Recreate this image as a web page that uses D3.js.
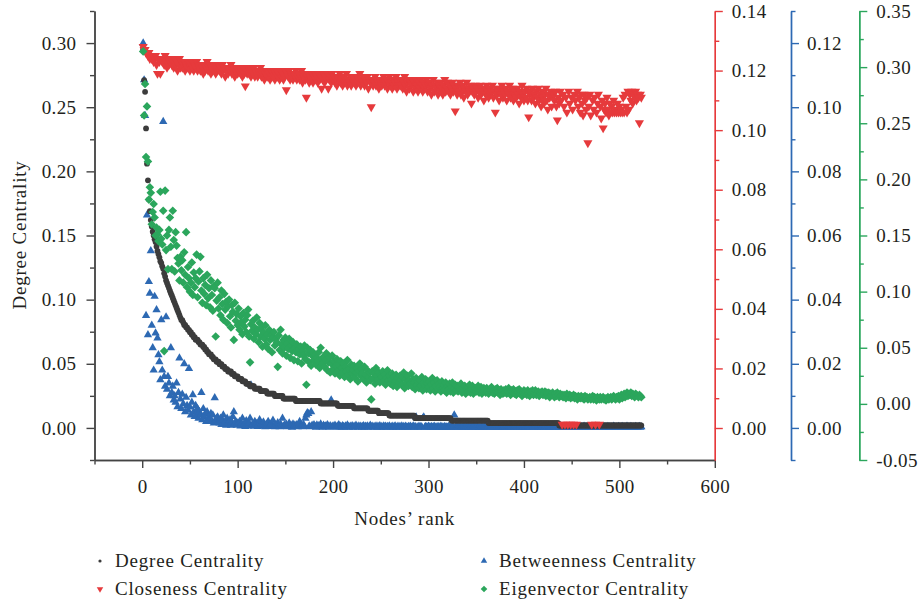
<!DOCTYPE html>
<html><head><meta charset="utf-8">
<script src="https://cdn.jsdelivr.net/npm/d3@7"></script>
<style>
body{margin:0;background:#fff;}
text{font-family:"Liberation Serif","Times New Roman",serif;}
</style></head><body><svg id="c" width="922" height="606"></svg>
<script>
// ---- data (value per node rank, rank = index + 1) ----
const degree = [
0.2950,0.2710,0.2620,0.2335,0.2060,0.1930,0.1780,0.1690,0.1620,0.1570,
0.1530,0.1500,0.1470,0.1450,0.1415,0.1380,0.1355,0.1330,0.1300,0.1285,
0.1260,0.1240,0.1205,0.1180,0.1150,0.1130,0.1110,0.1090,0.1070,0.1050,
0.1033,0.1013,0.0994,0.0975,0.0956,0.0937,0.0918,0.0899,0.0880,0.0860,
0.0841,0.0841,0.0822,0.0803,0.0803,0.0784,0.0784,0.0765,0.0765,0.0746,
0.0746,0.0727,0.0727,0.0707,0.0707,0.0688,0.0688,0.0688,0.0669,0.0669,
0.0650,0.0650,0.0650,0.0631,0.0631,0.0612,0.0612,0.0593,0.0593,0.0574,
0.0574,0.0574,0.0554,0.0554,0.0535,0.0535,0.0535,0.0516,0.0516,0.0516,
0.0497,0.0497,0.0497,0.0478,0.0478,0.0478,0.0459,0.0459,0.0459,0.0440,
0.0440,0.0440,0.0440,0.0421,0.0421,0.0421,0.0402,0.0402,0.0402,0.0402,
0.0382,0.0382,0.0382,0.0382,0.0363,0.0363,0.0363,0.0363,0.0344,0.0344,
0.0344,0.0344,0.0325,0.0325,0.0325,0.0325,0.0325,0.0306,0.0306,0.0306,
0.0306,0.0306,0.0306,0.0287,0.0287,0.0287,0.0287,0.0287,0.0287,0.0287,
0.0268,0.0268,0.0268,0.0268,0.0268,0.0268,0.0268,0.0268,0.0249,0.0249,
0.0249,0.0249,0.0249,0.0249,0.0249,0.0249,0.0249,0.0229,0.0229,0.0229,
0.0229,0.0229,0.0229,0.0229,0.0229,0.0229,0.0229,0.0229,0.0229,0.0229,
0.0210,0.0210,0.0210,0.0210,0.0210,0.0210,0.0210,0.0210,0.0210,0.0210,
0.0210,0.0210,0.0210,0.0210,0.0210,0.0210,0.0210,0.0210,0.0210,0.0210,
0.0210,0.0210,0.0210,0.0210,0.0210,0.0210,0.0191,0.0191,0.0191,0.0191,
0.0191,0.0191,0.0191,0.0191,0.0191,0.0191,0.0191,0.0191,0.0191,0.0191,
0.0191,0.0191,0.0191,0.0191,0.0172,0.0172,0.0172,0.0172,0.0172,0.0172,
0.0172,0.0172,0.0172,0.0172,0.0172,0.0172,0.0172,0.0172,0.0172,0.0172,
0.0172,0.0153,0.0153,0.0153,0.0153,0.0153,0.0153,0.0153,0.0153,0.0153,
0.0153,0.0153,0.0153,0.0153,0.0153,0.0153,0.0134,0.0134,0.0134,0.0134,
0.0134,0.0134,0.0134,0.0134,0.0134,0.0134,0.0134,0.0115,0.0115,0.0115,
0.0115,0.0115,0.0115,0.0115,0.0115,0.0115,0.0115,0.0115,0.0096,0.0096,
0.0096,0.0096,0.0096,0.0096,0.0096,0.0096,0.0096,0.0096,0.0096,0.0096,
0.0096,0.0096,0.0096,0.0096,0.0096,0.0096,0.0096,0.0096,0.0096,0.0096,
0.0096,0.0096,0.0096,0.0096,0.0096,0.0076,0.0076,0.0076,0.0076,0.0076,
0.0076,0.0076,0.0076,0.0076,0.0076,0.0076,0.0076,0.0076,0.0076,0.0076,
0.0076,0.0076,0.0076,0.0076,0.0076,0.0076,0.0076,0.0076,0.0076,0.0076,
0.0076,0.0076,0.0076,0.0076,0.0076,0.0076,0.0076,0.0076,0.0076,0.0076,
0.0076,0.0076,0.0076,0.0057,0.0057,0.0057,0.0057,0.0057,0.0057,0.0057,
0.0057,0.0057,0.0057,0.0057,0.0057,0.0057,0.0057,0.0057,0.0057,0.0057,
0.0057,0.0057,0.0057,0.0057,0.0057,0.0057,0.0057,0.0057,0.0057,0.0057,
0.0057,0.0057,0.0057,0.0057,0.0057,0.0057,0.0057,0.0057,0.0057,0.0057,
0.0057,0.0057,0.0038,0.0038,0.0038,0.0038,0.0038,0.0038,0.0038,0.0038,
0.0038,0.0038,0.0038,0.0038,0.0038,0.0038,0.0038,0.0038,0.0038,0.0038,
0.0038,0.0038,0.0038,0.0038,0.0038,0.0038,0.0038,0.0038,0.0038,0.0038,
0.0038,0.0038,0.0038,0.0038,0.0038,0.0038,0.0038,0.0038,0.0038,0.0038,
0.0038,0.0038,0.0038,0.0038,0.0038,0.0038,0.0038,0.0038,0.0038,0.0038,
0.0038,0.0038,0.0038,0.0038,0.0038,0.0038,0.0038,0.0038,0.0038,0.0038,
0.0038,0.0038,0.0038,0.0038,0.0038,0.0038,0.0038,0.0038,0.0038,0.0038,
0.0038,0.0038,0.0038,0.0038,0.0038,0.0038,0.0019,0.0019,0.0019,0.0019,
0.0019,0.0019,0.0019,0.0019,0.0019,0.0019,0.0019,0.0019,0.0019,0.0019,
0.0019,0.0019,0.0019,0.0019,0.0019,0.0019,0.0019,0.0019,0.0019,0.0019,
0.0019,0.0019,0.0019,0.0019,0.0019,0.0019,0.0019,0.0019,0.0019,0.0019,
0.0019,0.0019,0.0019,0.0019,0.0019,0.0019,0.0019,0.0019,0.0019,0.0019,
0.0019,0.0019,0.0019,0.0019,0.0019,0.0019,0.0019,0.0019,0.0019,0.0019,
0.0019,0.0019,0.0019,0.0019,0.0019,0.0019,0.0019,0.0019,0.0019,0.0019,
0.0019,0.0019,0.0019,0.0019,0.0019,0.0019,0.0019,0.0019,0.0019,0.0019,
0.0019,0.0019,0.0019,0.0019,0.0019,0.0019,0.0019,0.0019,0.0019,0.0019,
0.0019,0.0019,0.0019];

const closeness = [
0.128,0.127,0.127,0.126,0.126,0.125,0.126,0.124,0.125,0.124,
0.125,0.123,0.124,0.125,0.122,0.119,0.124,0.123,0.119,0.124,
0.123,0.124,0.122,0.125,0.123,0.121,0.124,0.122,0.123,0.124,
0.122,0.123,0.121,0.124,0.122,0.123,0.120,0.122,0.124,0.121,
0.123,0.121,0.122,0.123,0.120,0.122,0.121,0.123,0.122,0.120,
0.122,0.123,0.121,0.120,0.122,0.121,0.123,0.120,0.122,0.121,
0.120,0.122,0.121,0.119,0.122,0.120,0.121,0.123,0.120,0.121,
0.122,0.119,0.121,0.120,0.122,0.121,0.119,0.121,0.120,0.122,
0.120,0.121,0.119,0.122,0.120,0.121,0.118,0.120,0.121,0.119,
0.121,0.120,0.122,0.119,0.120,0.121,0.118,0.120,0.121,0.119,
0.120,0.121,0.119,0.120,0.118,0.121,0.119,0.1148,0.120,0.119,
0.121,0.119,0.120,0.118,0.120,0.119,0.121,0.118,0.120,0.119,
0.118,0.120,0.119,0.121,0.118,0.119,0.120,0.117,0.119,0.120,
0.118,0.120,0.119,0.117,0.120,0.118,0.119,0.120,0.117,0.119,
0.120,0.118,0.119,0.117,0.120,0.118,0.119,0.117,0.118,0.120,
0.1135,0.119,0.118,0.120,0.117,0.119,0.118,0.117,0.119,0.118,
0.120,0.117,0.118,0.119,0.117,0.118,0.120,0.116,0.118,0.119,
0.117,0.111,0.118,0.119,0.116,0.118,0.117,0.119,0.116,0.118,
0.119,0.117,0.118,0.116,0.119,0.117,0.118,0.114,0.117,0.119,
0.116,0.118,0.117,0.119,0.114,0.117,0.118,0.116,0.119,0.117,
0.118,0.116,0.117,0.115,0.118,0.117,0.119,0.116,0.117,0.115,
0.118,0.116,0.117,0.119,0.115,0.117,0.116,0.118,0.115,0.117,
0.118,0.116,0.117,0.115,0.118,0.116,0.117,0.119,0.115,0.117,
0.116,0.118,0.115,0.117,0.116,0.118,0.114,0.117,0.116,0.1078,
0.117,0.115,0.116,0.118,0.115,0.117,0.116,0.114,0.117,0.116,
0.115,0.117,0.118,0.115,0.116,0.117,0.114,0.116,0.118,0.115,
0.116,0.114,0.117,0.115,0.116,0.118,0.114,0.116,0.115,0.117,
0.115,0.117,0.114,0.116,0.118,0.115,0.113,0.116,0.117,0.114,
0.116,0.115,0.117,0.113,0.116,0.114,0.117,0.115,0.113,0.116,
0.114,0.117,0.115,0.113,0.116,0.114,0.115,0.117,0.113,0.115,
0.116,0.114,0.112,0.115,0.117,0.113,0.115,0.114,0.116,0.112,
0.115,0.113,0.116,0.114,0.112,0.115,0.117,0.113,0.114,0.116,
0.113,0.115,0.112,0.114,0.116,0.113,0.115,0.1064,0.114,0.112,
0.115,0.113,0.116,0.112,0.114,0.115,0.111,0.114,0.113,0.116,
0.112,0.114,0.113,0.115,0.109,0.113,0.114,0.112,0.115,0.113,
0.114,0.111,0.113,0.115,0.112,0.114,0.113,0.110,0.114,0.112,
0.115,0.113,0.111,0.114,0.112,0.113,0.115,0.111,0.113,0.106,
0.114,0.112,0.113,0.110,0.114,0.112,0.115,0.111,0.113,0.112,
0.114,0.110,0.113,0.112,0.115,0.111,0.113,0.114,0.110,0.112,
0.113,0.111,0.114,0.112,0.109,0.113,0.111,0.115,0.112,0.110,
0.113,0.111,0.114,0.110,0.1044,0.112,0.113,0.110,0.114,0.111,
0.112,0.109,0.113,0.111,0.114,0.110,0.112,0.108,0.113,0.111,
0.109,0.112,0.114,0.110,0.107,0.112,0.111,0.113,0.108,0.111,
0.112,0.110,0.113,0.108,0.1034,0.111,0.109,0.113,0.110,0.0012,
0.112,0.108,0.0012,0.111,0.106,0.0012,0.113,0.109,0.0012,0.111,
0.107,0.0012,0.112,0.110,0.0012,0.113,0.108,0.111,0.106,0.112,
0.109,0.105,0.112,0.110,0.107,0.111,0.0957,0.108,0.112,0.105,
0.0012,0.110,0.107,0.111,0.0012,0.106,0.109,0.112,0.0012,0.108,
0.104,0.110,0.1007,0.107,0.109,0.106,0.111,0.107,0.105,0.109,
0.106,0.108,0.106,0.110,0.106,0.107,0.106,0.109,0.106,0.108,
0.106,0.107,0.106,0.111,0.106,0.112,0.108,0.106,0.113,0.107,
0.112,0.110,0.113,0.109,0.112,0.111,0.113,0.110,0.112,0.111,
0.1024,0.112,0.111];

const betweenness = [
0.1200,0.1085,0.0974,0.0350,0.0664,0.0290,0.0456,0.0420,0.0552,0.0320,
0.0250,0.0180,0.0410,0.0296,0.0368,0.0280,0.0228,0.0206,0.0150,0.0337,
0.0180,0.0955,0.0160,0.0130,0.0346,0.0120,0.0160,0.0140,0.0100,0.0250,
0.0110,0.0130,0.0087,0.0100,0.0080,0.0140,0.0066,0.0110,0.0218,0.0090,
0.0060,0.0105,0.0075,0.0200,0.0050,0.0095,0.0070,0.0055,0.0185,0.0065,
0.0040,0.0080,0.0103,0.0050,0.0035,0.0070,0.0045,0.0060,0.0030,0.0050,
0.0040,0.0110,0.0025,0.0060,0.0035,0.0045,0.0020,0.0050,0.0025,0.0035,
0.0030,0.0045,0.0020,0.0040,0.0015,0.0094,0.0025,0.0030,0.0034,0.0020,
0.0015,0.0030,0.0010,0.0025,0.0040,0.0012,0.0020,0.0008,0.0030,0.0015,
0.0010,0.0025,0.0008,0.0018,0.0035,0.0050,0.0012,0.0020,0.0008,0.0015,
0.0010,0.0020,0.0006,0.0014,0.0030,0.0008,0.0012,0.0004,0.0022,0.0010,
0.0006,0.0015,0.0030,0.0134,0.0008,0.0012,0.0005,0.0020,0.0009,0.0014,
0.0004,0.0010,0.0025,0.0007,0.0012,0.0005,0.0018,0.0008,0.0003,0.0011,
0.0006,0.0020,0.0004,0.0009,0.0013,0.0005,0.0024,0.0007,0.0003,0.0010,
0.0005,0.0016,0.0008,0.0003,0.0012,0.0006,0.0030,0.0004,0.0009,0.0005,
0.0011,0.0003,0.0007,0.0015,0.0004,0.0008,0.0002,0.0012,0.0005,0.0009,
0.0004,0.0010,0.0003,0.0007,0.0020,0.0005,0.0008,0.0003,0.0011,0.0004,
0.0030,0.0040,0.0047,0.0045,0.0006,0.0003,0.0050,0.0008,0.0004,0.0010,
0.0005,0.0002,0.0009,0.0004,0.0007,0.0003,0.0012,0.0005,0.0002,0.0008,
0.0004,0.0006,0.0003,0.0010,0.0005,0.0002,0.0007,0.0087,0.0004,0.0006,
0.0003,0.0008,0.0004,0.0002,0.0006,0.0010,0.0003,0.0005,0.0002,0.0007,
0.0004,0.0002,0.0006,0.0003,0.0009,0.0004,0.0002,0.0005,0.0003,0.0007,
0.0002,0.0005,0.0003,0.0008,0.0004,0.0002,0.0006,0.0003,0.0005,0.0002,
0.0004,0.0007,0.0002,0.0005,0.0003,0.0006,0.0002,0.0004,0.0008,0.0003,
0.0005,0.0002,0.0004,0.0003,0.0006,0.0002,0.0005,0.0003,0.0007,0.0002,
0.0004,0.0002,0.0006,0.0003,0.0005,0.0002,0.0004,0.0003,0.0006,0.0002,
0.0003,0.0005,0.0002,0.0004,0.0006,0.0002,0.0003,0.0005,0.0002,0.0004,
0.0003,0.0006,0.0002,0.0004,0.0002,0.0005,0.0003,0.0002,0.0004,0.0003,
0.0005,0.0002,0.0003,0.0006,0.0002,0.0004,0.0034,0.0003,0.0002,0.0005,
0.0002,0.0004,0.0003,0.0030,0.0034,0.0002,0.0004,0.0003,0.0002,0.0005,
0.0003,0.0002,0.0004,0.0002,0.0003,0.0005,0.0002,0.0003,0.0002,0.0004,
0.0002,0.0003,0.0005,0.0002,0.0003,0.0002,0.0004,0.0002,0.0003,0.0002,
0.0004,0.0002,0.0003,0.0002,0.0005,0.0002,0.0040,0.0003,0.0002,0.0004,
0.0003,0.0002,0.0004,0.0002,0.0003,0.0005,0.0002,0.0003,0.0002,0.0004,
0.0002,0.0003,0.0002,0.0004,0.0003,0.0002,0.0005,0.0002,0.0003,0.0002,
0.0004,0.0002,0.0003,0.0002,0.0003,0.0005,0.0002,0.0002,0.0004,0.0003,
0.0002,0.0003,0.0004,0.0002,0.0003,0.0002,0.0005,0.0003,0.0002,0.0003,
0.0002,0.0004,0.0002,0.0003,0.0002,0.0003,0.0005,0.0002,0.0003,0.0002,
0.0003,0.0002,0.0004,0.0003,0.0002,0.0003,0.0002,0.0004,0.0002,0.0003,
0.0005,0.0002,0.0003,0.0002,0.0004,0.0003,0.0002,0.0003,0.0002,0.0004,
0.0002,0.0003,0.0002,0.0005,0.0003,0.0002,0.0003,0.0004,0.0002,0.0003,
0.0002,0.0004,0.0003,0.0002,0.0003,0.0002,0.0004,0.0003,0.0002,0.0005,
0.0003,0.0002,0.0003,0.0002,0.0004,0.0002,0.0003,0.0002,0.0003,0.0004,
0.0002,0.0003,0.0002,0.0004,0.0003,0.0002,0.0003,0.0002,0.0004,0.0002,
0.0003,0.0002,0.0004,0.0003,0.0002,0.0003,0.0002,0.0005,0.0003,0.0002,
0.0003,0.0002,0.0004,0.0002,0.0003,0.0002,0.0003,0.0004,0.0002,0.0003,
0.0002,0.0003,0.0005,0.0002,0.0003,0.0002,0.0004,0.0003,0.0002,0.0003,
0.0002,0.0004,0.0002,0.0003,0.0002,0.0003,0.0004,0.0002,0.0003,0.0002,
0.0003,0.0002,0.0004,0.0003,0.0002,0.0003,0.0002,0.0004,0.0002,0.0003,
0.0002,0.0003,0.0002,0.0005,0.0003,0.0002,0.0003,0.0002,0.0004,0.0003,
0.0002,0.0003,0.0004,0.0002,0.0003,0.0002,0.0003,0.0005,0.0002,0.0003,
0.0002,0.0004,0.0003,0.0002,0.0003,0.0002,0.0004,0.0003,0.0002,0.0003,
0.0004,0.0002,0.0003];

const eigenvector = [
0.314,0.257,0.285,0.220,0.265,0.216,0.182,0.193,0.188,0.160,
0.171,0.178,0.166,0.150,0.157,0.151,0.145,0.155,0.189,0.147,
0.142,0.172,0.047,0.190,0.137,0.150,0.120,0.155,0.166,0.140,
0.120,0.172,0.146,0.118,0.153,0.141,0.130,0.125,0.110,0.131,
0.119,0.128,0.108,0.135,0.115,0.153,0.104,0.122,0.112,0.100,
0.108,0.126,0.097,0.117,0.104,0.112,0.133,0.095,0.109,0.118,
0.131,0.101,0.090,0.112,0.098,0.106,0.088,0.115,0.094,0.103,
0.086,0.110,0.097,0.083,0.105,0.103,0.060,0.092,0.108,0.085,
0.095,0.079,0.101,0.089,0.075,0.098,0.084,0.091,0.072,0.087,
0.093,0.078,0.068,0.088,0.082,0.057,0.090,0.074,0.080,0.070,
0.085,0.066,0.078,0.073,0.062,0.081,0.069,0.075,0.064,0.079,
0.084,0.060,0.037,0.071,0.065,0.074,0.058,0.068,0.062,0.077,
0.066,0.055,0.072,0.060,0.068,0.051,0.064,0.058,0.070,0.053,
0.062,0.049,0.066,0.057,0.061,0.046,0.059,0.064,0.052,0.058,
0.055,0.033,0.061,0.048,0.066,0.053,0.045,0.057,0.050,0.059,
0.043,0.054,0.049,0.058,0.041,0.052,0.047,0.055,0.039,0.050,
0.046,0.053,0.038,0.049,0.044,0.051,0.036,0.047,0.043,0.052,
0.040,0.017,0.050,0.045,0.037,0.048,0.034,0.043,0.046,0.039,
0.044,0.035,0.041,0.038,0.046,0.032,0.050,0.040,0.036,0.042,
0.033,0.039,0.045,0.030,0.037,0.041,0.028,0.036,0.043,0.031,
0.038,0.027,0.034,0.040,0.029,0.035,0.025,0.038,0.032,0.028,
0.036,0.024,0.033,0.029,0.039,0.026,0.031,0.022,0.035,0.027,
0.030,0.034,0.023,0.028,0.032,0.020,0.029,0.036,0.025,0.031,
0.027,0.022,0.033,0.026,0.019,0.030,0.024,0.028,0.021,0.004,
0.029,0.023,0.027,0.018,0.032,0.025,0.021,0.028,0.019,0.026,
0.024,0.029,0.020,0.026,0.017,0.023,0.030,0.021,0.025,0.018,
0.022,0.027,0.016,0.024,0.020,0.026,0.015,0.023,0.019,0.025,
0.021,0.017,0.024,0.028,0.014,0.022,0.019,0.025,0.016,0.021,
0.018,0.027,0.015,0.022,0.019,0.013,0.023,0.017,0.020,0.014,
0.021,0.016,0.024,0.012,0.019,0.017,0.022,0.013,0.018,0.015,
0.020,0.012,0.017,0.023,0.014,0.019,0.011,0.016,0.021,0.013,
0.018,0.015,0.011,0.020,0.014,0.017,0.012,0.019,0.010,0.016,
0.013,0.018,0.011,0.015,0.019,0.010,0.014,0.017,0.012,0.016,
0.011,0.015,0.013,0.018,0.010,0.014,0.012,0.016,0.009,0.013,
0.015,0.011,0.017,0.010,0.013,0.016,0.009,0.012,0.014,0.011,
0.013,0.016,0.010,0.012,0.015,0.009,0.011,0.014,0.012,0.010,
0.014,0.011,0.009,0.013,0.012,0.015,0.010,0.012,0.009,0.013,
0.011,0.014,0.010,0.012,0.008,0.013,0.011,0.009,0.012,0.010,
0.013,0.009,0.011,0.014,0.010,0.008,0.012,0.011,0.013,0.009,
0.011,0.008,0.012,0.010,0.013,0.009,0.011,0.007,0.010,0.012,
0.009,0.011,0.008,0.012,0.010,0.007,0.011,0.009,0.012,0.008,
0.010,0.012,0.008,0.009,0.011,0.007,0.010,0.009,0.011,0.008,
0.009,0.011,0.007,0.010,0.008,0.010,0.006,0.009,0.008,0.010,
0.008,0.006,0.009,0.007,0.010,0.008,0.006,0.009,0.007,0.008,
0.006,0.008,0.007,0.005,0.009,0.007,0.006,0.008,0.005,0.007,
0.006,0.008,0.005,0.007,0.006,0.004,0.007,0.006,0.005,0.007,
0.005,0.006,0.004,0.007,0.005,0.006,0.004,0.005,0.006,0.004,
0.005,0.007,0.004,0.006,0.005,0.003,0.006,0.005,0.004,0.006,
0.004,0.005,0.006,0.004,0.005,0.003,0.005,0.006,0.004,0.005,
0.006,0.004,0.005,0.007,0.005,0.004,0.006,0.005,0.007,0.004,
0.006,0.008,0.005,0.007,0.009,0.006,0.008,0.010,0.007,0.009,
0.008,0.010,0.007,0.009,0.008,0.006,0.009,0.008,0.007,0.006,
0.008,0.007,0.006];

const xTicks = [0,100,200,300,400,500,600];
const xMinor = [-50,50,150,250,350,450,550];
const leftTicks = [0,0.05,0.10,0.15,0.20,0.25,0.30];
const leftMinor = [-0.025,0.025,0.075,0.125,0.175,0.225,0.275,0.325];
const redTicks = [0,0.02,0.04,0.06,0.08,0.10,0.12,0.14];
const redMinor = [0.01,0.03,0.05,0.07,0.09,0.11,0.13];
const blueTicks = [0,0.02,0.04,0.06,0.08,0.10,0.12];
const blueMinor = [-0.01,0.01,0.03,0.05,0.07,0.09,0.11,0.13];
const greenTicks = [-0.05,0,0.05,0.10,0.15,0.20,0.25,0.30,0.35];
const greenMinor = [-0.025,0.025,0.075,0.125,0.175,0.225,0.275,0.325];
const seriesNames = ["Degree Centrality","Betweenness Centrality","Closeness Centrality","Eigenvector Centrality"];

// ---- drawing ----
const RED="#e63a3c", BLUE="#2d69b3", GREEN="#2ba65c", BLACK="#3c3c3c", AXIS="#444";
const svg=d3.select("#c");
svg.append("rect").attr("width",922).attr("height",606).attr("fill","#fff");

const x=d3.scaleLinear().domain([-50,600]).range([94.5,714.8]);
const yL=d3.scaleLinear().domain([-0.025,0.325]).range([460,11]);
const yR=d3.scaleLinear().domain([-0.01074,0.14]).range([460,11]);
const yB=d3.scaleLinear().domain([-0.01,0.13]).range([460,11]);
const yG=d3.scaleLinear().domain([-0.05,0.35]).range([460,11]);

const triUp=d3.symbol().type(d3.symbolTriangle).size(30)();
const triDown=d3.symbol().type(d3.symbolTriangle).size(36)();
const diamond=r=>`M0,${-r}L${r},0L0,${r}L${-r},0Z`;

const marks=svg.append("g");
marks.append("g").selectAll("path").data(betweenness).join("path")
  .attr("d",triUp).attr("fill",BLUE)
  .attr("transform",(d,i)=>`translate(${x(i+1)},${yB(d)})`);
marks.append("g").selectAll("circle").data(degree).join("circle")
  .attr("cx",(d,i)=>x(i+1)).attr("cy",d=>yL(d)).attr("r",2.9).attr("fill",BLACK);
marks.append("g").selectAll("path").data(closeness).join("path")
  .attr("d",triDown).attr("fill",RED)
  .attr("transform",(d,i)=>`translate(${x(i+1)},${yR(d)}) rotate(180)`);
marks.append("g").selectAll("path").data(eigenvector).join("path")
  .attr("d",diamond(4.3)).attr("fill",GREEN)
  .attr("transform",(d,i)=>`translate(${x(i+1)},${yG(d)})`);

function style(g,color){
  g.selectAll(".domain").attr("stroke",color).attr("stroke-width",1.4);
  g.selectAll(".tick line").attr("stroke",color).attr("stroke-width",1.4);
  g.selectAll("text").attr("font-size",19).attr("fill","#231f20")
    .attr("font-family","Liberation Serif, Times New Roman, serif").attr("letter-spacing",0.4);
}
const fmt2=d=>d3.format(".2f")(d).replace("\u2212","-");
function addAxis(axisGen,transform,scale,major,minor,color,pad){
  const gm=svg.append("g").attr("transform",transform)
    .call(axisGen(scale).tickValues(minor).tickSize(4.5).tickSizeOuter(0).tickFormat(""));
  style(gm,color);
  const g=svg.append("g").attr("transform",transform)
    .call(axisGen(scale).tickValues(major).tickSize(8).tickSizeOuter(0).tickPadding(pad).tickFormat(fmt2));
  style(g,color);
  return g;
}
addAxis(d3.axisLeft,"translate(94.5,0)",yL,leftTicks,leftMinor,AXIS,10);
const gx=svg.append("g").attr("transform","translate(0,460)");
gx.call(d3.axisBottom(x).tickValues(xMinor).tickSize(4.5).tickSizeOuter(0).tickFormat(""));
style(gx,AXIS);
const gx2=svg.append("g").attr("transform","translate(0,460)");
gx2.call(d3.axisBottom(x).tickValues(xTicks).tickSize(8).tickSizeOuter(0).tickPadding(12).tickFormat(d3.format("d")));
style(gx2,AXIS);
addAxis(d3.axisRight,"translate(714.8,0)",yR,redTicks,redMinor,RED,9);
addAxis(d3.axisRight,"translate(791,0)",yB,blueTicks,blueMinor,BLUE,8);
addAxis(d3.axisRight,"translate(859.3,0)",yG,greenTicks,greenMinor,GREEN,9);

// axis titles
svg.append("text").attr("transform","translate(26,235) rotate(-90)")
  .attr("text-anchor","middle").attr("font-size",19).attr("letter-spacing",0.8)
  .attr("fill","#231f20").text("Degree Centrality");
svg.append("text").attr("x",404.6).attr("y",525)
  .attr("text-anchor","middle").attr("font-size",19).attr("letter-spacing",0.8)
  .attr("fill","#231f20").text("Nodes\u2019 rank");

// legend
const legend=[
  {name:seriesNames[0],x:100,y:561,kind:"dot",color:BLACK},
  {name:seriesNames[1],x:484,y:561,kind:"up",color:BLUE},
  {name:seriesNames[2],x:100,y:589,kind:"down",color:RED},
  {name:seriesNames[3],x:484,y:589,kind:"diamond",color:GREEN}
];
const lg=svg.append("g");
legend.forEach(l=>{
  let m;
  if(l.kind==="dot") m=lg.append("circle").attr("cx",l.x).attr("cy",l.y).attr("r",1.6);
  else if(l.kind==="up") m=lg.append("path").attr("d",d3.symbol().type(d3.symbolTriangle).size(18)()).attr("transform",`translate(${l.x},${l.y})`);
  else if(l.kind==="down") m=lg.append("path").attr("d",d3.symbol().type(d3.symbolTriangle).size(18)()).attr("transform",`translate(${l.x},${l.y}) rotate(180)`);
  else m=lg.append("path").attr("d",diamond(3.3)).attr("transform",`translate(${l.x},${l.y})`);
  m.attr("fill",l.color);
  lg.append("text").attr("x",l.x+15).attr("y",l.y+6).attr("font-size",19)
    .attr("letter-spacing",0.8).attr("fill","#231f20").text(l.name);
});
</script></body></html>
